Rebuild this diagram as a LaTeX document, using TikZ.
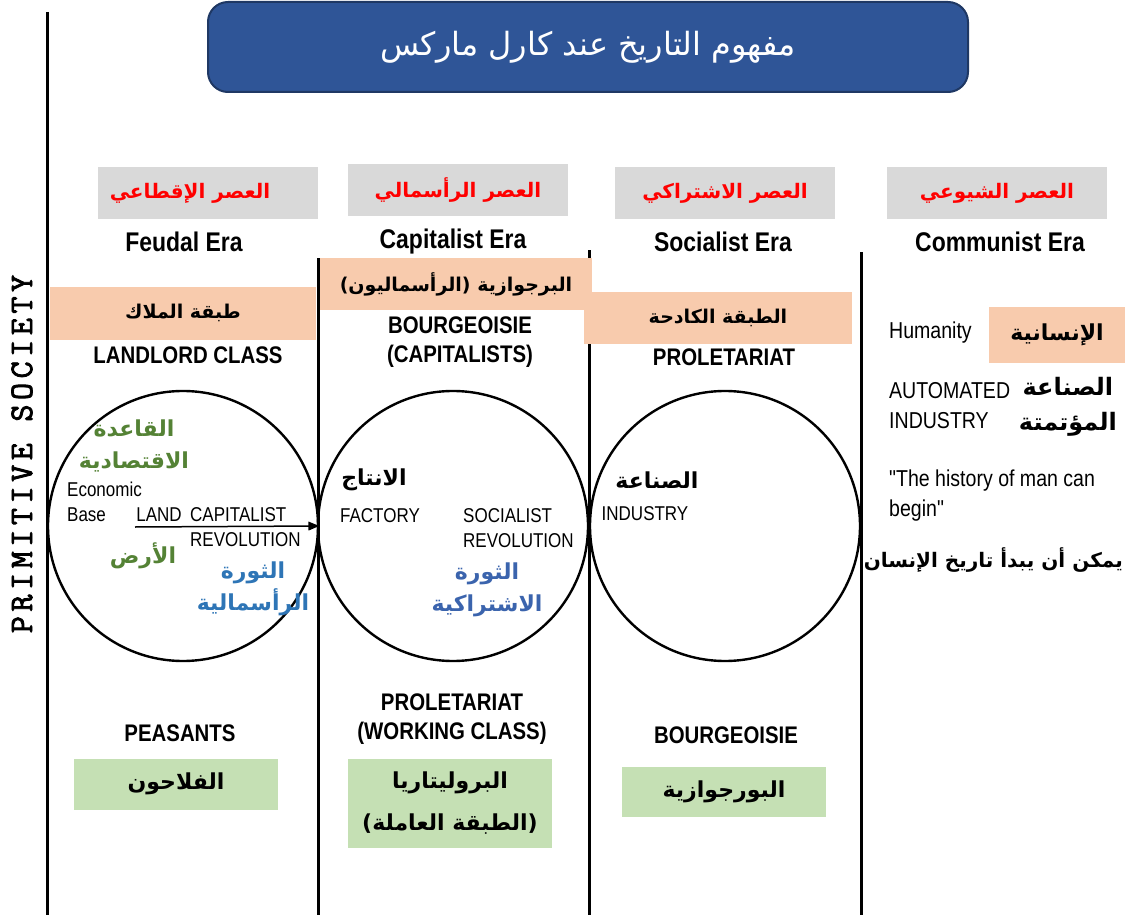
\documentclass[tikz,border=0pt]{standalone}
\usepackage{fontspec}
\setmainfont{Liberation Sans}
\newfontfamily\arabicfont[Script=Arabic]{DejaVu Sans}
\newfontfamily\narrowfont[FakeStretch=0.85]{Liberation Sans}
\newfontfamily\typefont[FakeBold=2.5,LetterSpace=14]{Latin Modern Mono}
\TeXXeTstate=1
\usetikzlibrary{arrows}

\definecolor{titleblue}{HTML}{2F5597}
\definecolor{titleedge}{HTML}{1F3864}
\definecolor{eragray}{HTML}{D9D9D9}
\definecolor{peach}{HTML}{F8CBAD}
\definecolor{leafgreen}{HTML}{C5E0B4}
\definecolor{basegreen}{HTML}{548235}
\definecolor{revblue}{HTML}{2E75B6}
\definecolor{socblue}{HTML}{3B64AD}

\newcommand{\rl}[1]{\beginR #1\endR}

\tikzset{
  erabox/.style={fill=eragray, text=red, minimum width=220pt, minimum height=52pt, inner sep=0pt,
    font=\arabicfont\bfseries\fontsize{20}{24}\selectfont},
  classbox/.style={fill=peach, minimum height=53pt, inner sep=0pt,
    font=\arabicfont\bfseries\fontsize{19}{24}\selectfont},
  greenbox/.style={fill=leafgreen, minimum width=204pt, inner sep=0pt, align=center,
    font=\arabicfont\bfseries\fontsize{22}{42}\selectfont},
  eratitle/.style={font=\narrowfont\bfseries\fontsize{27}{30}\selectfont},
  classname/.style={font=\narrowfont\bfseries\fontsize{24}{29}\selectfont, align=center},
  smalltext/.style={font=\narrowfont\fontsize{20}{25}\selectfont, align=left, inner sep=0pt},
  righttext/.style={font=\narrowfont\fontsize{23}{30}\selectfont, align=left, inner sep=0pt},
  arlabel/.style={font=\arabicfont\bfseries\fontsize{22}{32}\selectfont, align=center, inner sep=0pt},
  ring/.style={circle, draw, line width=2.4pt, minimum size=270pt, inner sep=0pt},
  border/.style={line width=3pt}
}

\begin{document}
\begin{tikzpicture}[x=1pt,y=-1pt]
  \useasboundingbox (0,0) rectangle (1125,915);

  % era borders
  \draw[border] (47,12) -- (47,915);
  \draw[border] (318,258) -- (318,915);
  \draw[border] (589,250) -- (589,915);
  \draw[border] (861,252) -- (861,915);

  \node[rotate=90, font=\typefont\fontsize{33}{33}\selectfont] (primitive) at (22,454) {PRIMITIVE SOCIETY};

  % title
  \node[draw=titleedge, line width=2pt, fill=titleblue, rounded corners=20pt, minimum width=760pt,
    minimum height=90pt, text=white, font=\arabicfont\fontsize{32}{38}\selectfont] (title) at (588,47)
    {\rl{مفهوم التاريخ عند كارل ماركس}};

  % eras
  \node[erabox] (feudalar) at (208,193) {\rl{العصر الإقطاعي}\hspace*{36pt}};
  \node[erabox] (capitalar) at (458,190) {\rl{العصر الرأسمالي}};
  \node[erabox] (socialar) at (725,193) {\rl{العصر الاشتراكي}};
  \node[erabox] (communar) at (997,193) {\rl{العصر الشيوعي}};

  \node[eratitle] (feudalen) at (184,242) {Feudal Era};
  \node[eratitle] (capitalen) at (453,242) {Capitalist Era};
  \node[eratitle] (socialen) at (723,242) {Socialist Era};
  \node[eratitle] (communen) at (1000,242) {Communist Era};

  % circles
  \node[ring] (feudalring) at (183,526) {};
  \node[ring] (capitalring) at (453,526) {};
  \node[ring] (socialring) at (725,526) {};

  % upper classes
  \node[classbox, minimum width=266pt] (landlordar) at (183,313) {\rl{طبقة الملاك}};
  \node[classbox, minimum width=272pt, minimum height=52pt] (bourgar) at (456,284) {\rl{البرجوازية (الرأسماليون)}};
  \node[classbox, minimum width=268pt, minimum height=52pt] (proletar) at (718,318) {\rl{الطبقة الكادحة}};
  \node[classbox, minimum width=137pt, minimum height=56pt, font=\arabicfont\bfseries\fontsize{22}{26}\selectfont] (humanar) at (1057,335) {\rl{الإنسانية}};

  \node[classname] (landlorden) at (188,355) {LANDLORD CLASS};
  \node[classname] (bourgen) at (460,342) {BOURGEOISIE\\(CAPITALISTS)};
  \node[classname] (proleten) at (724,357) {PROLETARIAT};

  % feudal circle
  \node[arlabel, text=basegreen] (basear) at (134,446) {\rl{القاعدة}\\\rl{الاقتصادية}};
  \node[smalltext, anchor=west] (baseen) at (67,502) {Economic\\Base};
  \node[smalltext] (landen) at (159,515) {LAND};
  \node[smalltext, anchor=west] (caprev) at (190,527) {CAPITALIST\\REVOLUTION};
  \node[arlabel, text=basegreen] (landar) at (143,556) {\rl{الأرض}};
  \node[arlabel, text=revblue] (caprevar) at (253,589) {\rl{الثورة}\\\rl{الرأسمالية}};
  \coordinate (landtail) at (135,527);
  \draw[line width=1.5pt, -triangle 45] (landtail) -- (feudalring.east);

  % capitalist circle
  \node[arlabel] (prodar) at (374,480) {\rl{الانتاج}};
  \node[smalltext] (factoryen) at (380,516) {FACTORY};
  \node[smalltext, anchor=west] (socrev) at (463,528) {SOCIALIST\\REVOLUTION};
  \node[arlabel, text=socblue] (socrevar) at (487,590) {\rl{الثورة}\\\rl{الاشتراكية}};

  % socialist circle
  \node[arlabel] (industryar) at (657,480) {\rl{الصناعة}};
  \node[smalltext] (industryen) at (645,514) {INDUSTRY};

  % communist era
  \node[righttext, anchor=west] (humanen) at (889,333) {Humanity};
  \node[righttext, anchor=west] (autoen) at (889,406) {AUTOMATED\\INDUSTRY};
  \node[arlabel, anchor=east, font=\arabicfont\bfseries\fontsize{24}{35}\selectfont] (autoar) at (1117,407) {\rl{الصناعة}\\\rl{المؤتمتة}};
  \node[righttext, anchor=west] (historyen) at (889,496) {"The history of man can\\begin"};
  \node[arlabel, anchor=east, font=\arabicfont\bfseries\fontsize{20}{30}\selectfont] (historyar) at (1123,560) {\rl{يمكن أن يبدأ تاريخ الإنسان}};

  % lower classes
  \node[classname] (peasantsen) at (180,733) {PEASANTS};
  \node[greenbox, minimum height=51pt] (peasantsar) at (176,784) {\rl{الفلاحون}};
  \node[classname] (workersen) at (452,719) {PROLETARIAT\\(WORKING CLASS)};
  \node[greenbox, minimum height=89pt] (workersar) at (450,803) {\rl{البروليتاريا}\\\rl{(الطبقة العاملة)}};
  \node[classname] (bourgeoisen) at (726,735) {BOURGEOISIE};
  \node[greenbox, minimum height=50pt] (bourgeoisar) at (724,792) {\rl{البورجوازية}};
\end{tikzpicture}
\end{document}
